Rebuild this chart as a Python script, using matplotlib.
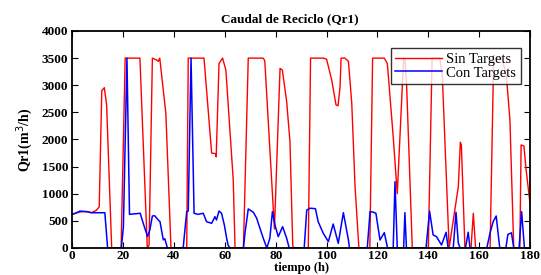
# Caudal de reciclo Qr1: sin targets vs con targets
import matplotlib
matplotlib.use('Agg')
import matplotlib.pyplot as plt

plt.rcParams['font.family'] = ['Liberation Serif', 'DejaVu Serif']

# Sin Targets (red)
t_sin = [0, 1.2, 3.7, 5.7, 7.6, 9.6, 10.6, 11.6, 12.6, 13.5, 15.5, 19.2, 20.8, 26.6,
         29.5, 30.2, 31.5, 33.2, 33.8, 34.4, 36.8, 38.4, 38.8, 45, 45.6, 51.8, 54.8,
         56.3, 56.6, 57.7, 59.1, 60.4, 63.3, 64, 67.3, 69.2, 75.1, 75.7, 79.5, 81.7,
         82.6, 84.3, 85.6, 86.7, 87, 92.8, 93.7, 98.7, 100, 102, 103.7, 104.5, 105.3,
         105.7, 107.2, 108.6, 109.9, 111.2, 112.7, 117, 118.1, 122.7, 123.9, 126.2,
         127.8, 130.3, 130.8, 131.5, 133.7, 140, 141.5, 144.5, 145.5, 148.2, 151.8,
         152.6, 153, 154.4, 156.8, 157.7, 158.6, 164.3, 165.7, 169, 170.7, 172.1,
         173.6, 176, 176.5, 177.6, 178.4, 180]
q_sin = [620, 640, 670, 670, 650, 700, 760, 2900, 2955, 2640, 0, 0, 3500, 3500,
         0, 55, 3500, 3465, 3440, 3500, 2480, 520, 0, 0, 3500, 3500, 1750,
         1740, 1680, 3400, 3500, 3280, 1250, 0, 0, 3500, 3500, 3450, 350, 3310,
         3280, 2700, 1960, 50, 0, 0, 3500, 3500, 3480, 3100, 2640, 2620, 2970,
         3500, 3500, 3440, 2670, 1130, 0, 0, 3500, 3500, 3400, 2050,
         1000, 3500, 3500, 2970, 0, 0, 3500, 3500, 3190, 0, 1130,
         1950, 1900, 0, 0, 640, 0, 0, 3500, 3500, 3180, 2360,
         0, 0, 1900, 1880, 1470, 820]

# Con Targets (blue)
t_con = [0, 1.2, 3.0, 5.7, 7.6, 9.6, 12.8, 13.9, 19.3, 20.1, 21.5, 22.5, 26.7, 27.9,
         29.6, 30.5, 31.5, 32.4, 33.8, 34.5, 35.2, 35.8, 36.4, 37.4, 43.6, 45, 45.6,
         46.7, 47.9, 49.4, 51.5, 52.8, 54.8, 56.1, 56.7, 57.7, 58.7, 59.8, 60.7, 61.3,
         62, 67.3, 67.9, 69.2, 71.2, 72.5, 73.8, 75.1, 76.5, 77.7, 78.7, 79.7, 81,
         82.7, 84.3, 85.3, 91.2, 92.2, 93.5, 95.6, 96.7, 98.7, 100.7, 102.6, 104.6,
         106.6, 108.6, 109, 116, 117.1, 118.4, 119.4, 121, 122.7, 124, 126.2, 126.9,
         127.8, 130.3, 130.8, 131.4, 139.1, 140.5, 141.9, 143.2, 145.2, 147, 147.8,
         149.8, 150.9, 151.8, 152.5, 154.6, 155.7, 156.4, 163, 164.3, 165.5, 166.7,
         168.1, 170.5, 171.3, 172.7, 173.6, 175.7, 176.7, 177.8, 180]
q_con = [620, 640, 680, 670, 650, 650, 650, 0, 0, 390, 3500, 620, 640, 455,
         210, 330, 590, 595, 516, 485, 300, 150, 170, 0, 0, 670, 680,
         3500, 640, 620, 640, 485, 455, 577, 516, 682, 640, 424, 180, 50,
         0, 0, 270, 720, 658, 550, 363, 180, 0, 180, 670, 424, 209,
         393, 180, 0, 0, 700, 733, 725, 485, 270, 117, 442, 86,
         651, 147, 0, 0, 670, 660, 640, 147, 283, 0, 0, 1222,
         0, 0, 651, 0, 0, 680, 240, 210, 55, 289, 0,
         0, 658, 90, 0, 0, 290, 0, 0, 280, 485, 590,
         0, 0, 250, 280, 0, 0, 670, 0, 0]

xticks = list(range(0, 181, 20))
yticks = list(range(0, 4001, 500))

fig = plt.figure(figsize=(5.41, 2.75), dpi=100)
ax = fig.add_axes([0.1336, 0.0982, 0.8461, 0.7891])

ax.plot(t_sin, q_sin, color='red', lw=1.0, label='Sin Targets')
ax.plot(t_con, q_con, color='blue', lw=1.1, label='Con Targets')

ax.set_xlim(0, 180)
ax.set_ylim(0, 4000)
ax.set_xticks(xticks)
ax.set_yticks(yticks)
ax.tick_params(direction='in', top=True, right=True, length=4, width=0.8,
               labelsize=9.5, pad=1.5)
ax.tick_params(axis='y', pad=3)
for lab in ax.get_xticklabels() + ax.get_yticklabels():
    lab.set_fontweight('bold')
for sp in ax.spines.values():
    sp.set_linewidth(1.3)

ax.set_title('Caudal de Reciclo (Qr1)', fontsize=9.5, fontweight='bold', x=0.476, pad=6)
ax.set_xlabel('tiempo (h)', fontsize=9, fontweight='bold', labelpad=0)
ax.set_ylabel('Qr1(m$^3$/h)', fontsize=10, fontweight='bold', labelpad=5)

leg = ax.legend(loc='upper right', fontsize=10.5, frameon=True, fancybox=False,
                borderpad=0.3, handlelength=3.2, handletextpad=0.3, labelspacing=0.05,
                bbox_to_anchor=(0.9955, 0.955))
leg.get_frame().set_edgecolor('black')
leg.get_frame().set_linewidth(1.0)

fig.savefig('out.png', dpi=100)
